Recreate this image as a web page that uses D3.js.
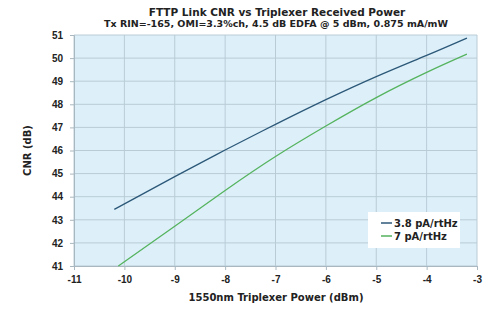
<!DOCTYPE html>
<html>
<head>
<meta charset="utf-8">
<script src="https://cdn.jsdelivr.net/npm/d3@7"></script>
<style>
  body { margin: 0; background: #fff; }
  svg { display: block; font-family: "DejaVu Sans", sans-serif; }
  .tick text { font-weight: bold; font-size: 10px; fill: #222; }
</style>
</head>
<body>
<div id="chart"></div>
<script>
// power (dBm) where the curves are sampled
const powerBlue = [-10.2, -9, -8, -7, -6, -5, -4, -3.2];
const cnrBlue   = [43.45, 44.87, 46.02, 47.13, 48.2, 49.2, 50.12, 50.87];
const powerGreen = [-10.12, -9, -8, -7, -6, -5, -4, -3.2];
const cnrGreen   = [41.0, 42.72, 44.27, 45.74, 47.06, 48.29, 49.38, 50.17];

const seriesNames = ['3.8 pA/rtHz', '7 pA/rtHz'];
const seriesColors = ['#2c5878', '#55b35e'];

const xTicks = [-11, -10, -9, -8, -7, -6, -5, -4, -3];
const yTicks = [41, 42, 43, 44, 45, 46, 47, 48, 49, 50, 51];

const width = 500, height = 313;
const margin = { top: 35, right: 23, bottom: 47, left: 74 };

const svg = d3.select('#chart').append('svg')
  .attr('width', width)
  .attr('height', height);

const x = d3.scaleLinear().domain([-11, -3]).range([margin.left, width - margin.right]);
const y = d3.scaleLinear().domain([41, 51]).range([height - margin.bottom, margin.top]);

// fond de la zone de tracé
svg.append('rect')
  .attr('x', x(-11)).attr('y', y(51))
  .attr('width', x(-3) - x(-11)).attr('height', y(41) - y(51))
  .attr('fill', '#ddf0fa');

// grille
const grid = svg.append('g').attr('stroke', '#b9ccd6').attr('stroke-width', 1);
grid.selectAll('line.v').data(xTicks).join('line')
  .attr('class', 'v')
  .attr('x1', d => x(d)).attr('x2', d => x(d))
  .attr('y1', y(51)).attr('y2', y(41));
grid.selectAll('line.h').data(yTicks).join('line')
  .attr('class', 'h')
  .attr('x1', x(-11)).attr('x2', x(-3))
  .attr('y1', d => y(d)).attr('y2', d => y(d));

// axes (plain hyphen for negatives, like the original)
const fmt = d => String(d);
const xAxis = svg.append('g')
  .attr('transform', `translate(0,${y(41)})`)
  .call(d3.axisBottom(x).tickValues(xTicks).tickFormat(fmt).tickSize(4).tickPadding(6));
const yAxis = svg.append('g')
  .attr('transform', `translate(${x(-11)},0)`)
  .call(d3.axisLeft(y).tickValues(yTicks).tickFormat(fmt).tickSize(4).tickPadding(7));
[xAxis, yAxis].forEach(a => {
  a.select('.domain').attr('stroke', '#a9b8c0');
  a.selectAll('.tick line').attr('stroke', '#a9b8c0');
});

// courbes
const line = d3.line()
  .x(d => x(d[0]))
  .y(d => y(d[1]))
  .curve(d3.curveNatural);

const series = [
  d3.zip(powerBlue, cnrBlue),
  d3.zip(powerGreen, cnrGreen),
];

svg.selectAll('path.series').data(series).join('path')
  .attr('class', 'series')
  .attr('d', line)
  .attr('fill', 'none')
  .attr('stroke', (d, i) => seriesColors[i])
  .attr('stroke-width', 1.3);

// légende
const legend = svg.append('g').attr('transform', 'translate(368,212)');
legend.append('rect')
  .attr('width', 92).attr('height', 36)
  .attr('fill', '#fff');
seriesNames.forEach((name, i) => {
  const g = legend.append('g').attr('transform', `translate(0,${11 + i * 13})`);
  g.append('line')
    .attr('x1', 13).attr('x2', 24)
    .attr('stroke', seriesColors[i]).attr('stroke-width', 1.5);
  g.append('text')
    .attr('x', 26).attr('dy', '0.35em')
    .attr('font-size', 10).attr('font-weight', 'bold').attr('fill', '#222')
    .text(name);
});

// titres
svg.append('text')
  .attr('x', 277).attr('y', 16)
  .attr('text-anchor', 'middle')
  .attr('font-size', 10.5).attr('font-weight', 'bold').attr('fill', '#222')
  .text('FTTP Link CNR vs Triplexer Received Power');
svg.append('text')
  .attr('x', 276).attr('y', 27)
  .attr('text-anchor', 'middle')
  .attr('font-size', 9.5).attr('font-weight', 'bold').attr('fill', '#222')
  .text('Tx RIN=-165, OMI=3.3%ch, 4.5 dB EDFA @ 5 dBm, 0.875 mA/mW');

svg.append('text')
  .attr('transform', `translate(31,${(y(41) + y(51)) / 2}) rotate(-90)`)
  .attr('text-anchor', 'middle')
  .attr('font-size', 10).attr('font-weight', 'bold').attr('fill', '#222')
  .text('CNR (dB)');

svg.append('text')
  .attr('x', 276).attr('y', 301)
  .attr('text-anchor', 'middle')
  .attr('font-size', 10).attr('font-weight', 'bold').attr('fill', '#222')
  .text('1550nm Triplexer Power (dBm)');
</script>
</body>
</html>
